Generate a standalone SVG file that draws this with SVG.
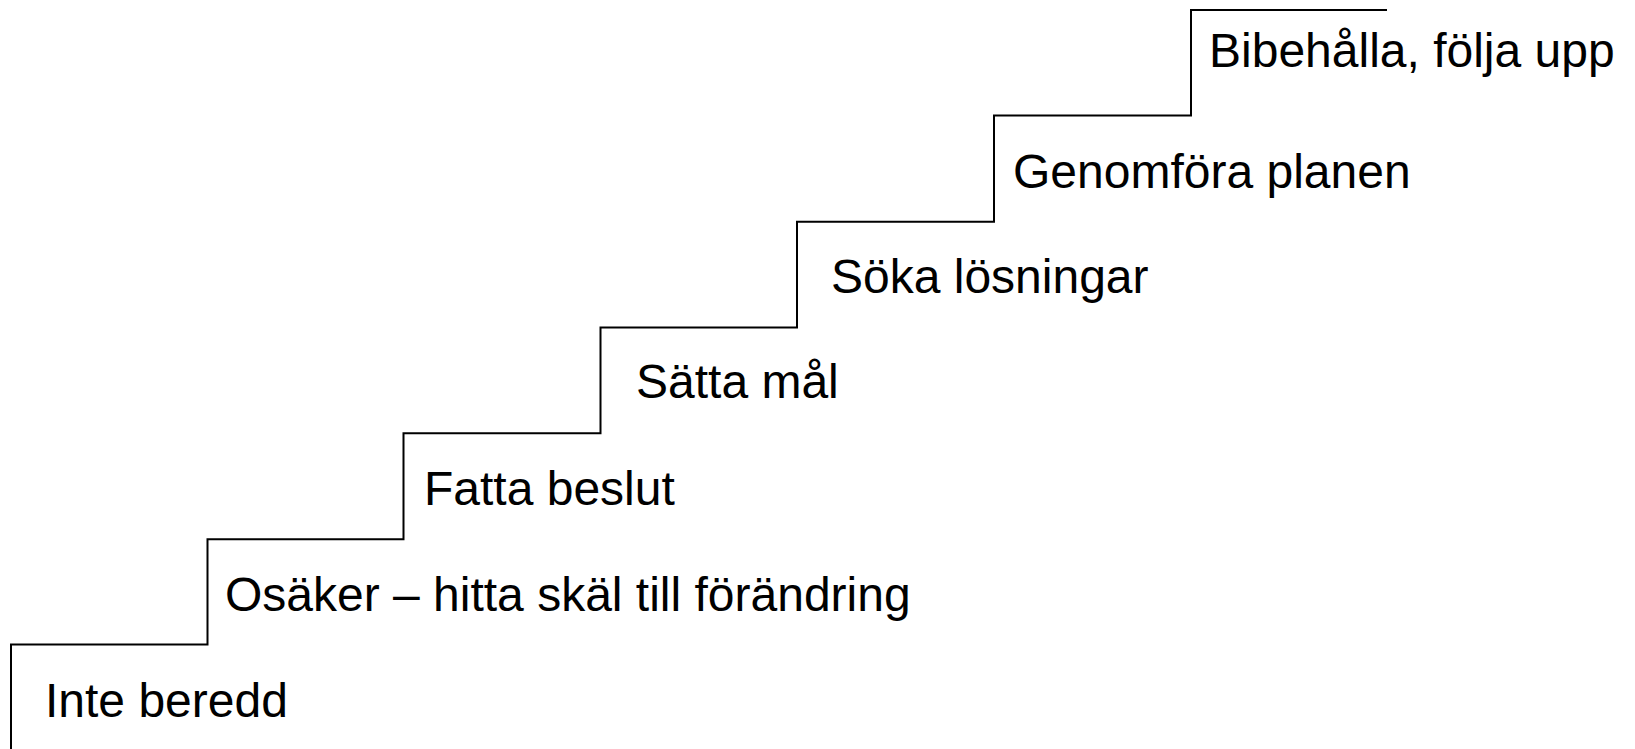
<svg xmlns="http://www.w3.org/2000/svg" width="1635" height="749" viewBox="0 0 1635 749">
<style>
.step{fill:none;stroke:#000;stroke-width:2;stroke-linejoin:miter}
.lbl{font-family:"Liberation Sans",Arial,sans-serif;font-size:48px;fill:#000}
</style>
<rect width="1635" height="749" fill="#fff"/>
<g id="connectors">
<path class="step" d="M11,749 V644.5 H207.5 V539.3 H403.5 V433.3 H600.5 V327.5 H797 V221.7 H994 V115.5 H1191 V10 H1387"/>
</g>
<g id="node-inte"><text class="lbl" x="45" y="716.5">Inte beredd</text></g>
<g id="node-osaker"><text class="lbl" x="225" y="610.5">Osäker – hitta skäl till förändring</text></g>
<g id="node-fatta"><text class="lbl" x="424" y="504.5">Fatta beslut</text></g>
<g id="node-satta"><text class="lbl" x="636" y="398">Sätta mål</text></g>
<g id="node-soka"><text class="lbl" x="831" y="292.5">Söka lösningar</text></g>
<g id="node-genomfora"><text class="lbl" x="1013" y="188">Genomföra planen</text></g>
<g id="node-bibehalla"><text class="lbl" x="1209" y="66.5">Bibehålla, följa upp</text></g>
</svg>
